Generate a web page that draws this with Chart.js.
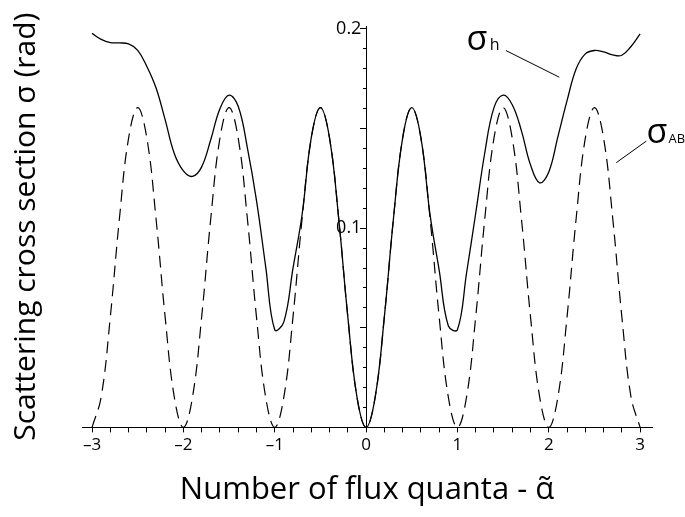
<!DOCTYPE html>
<html>
<head>
<meta charset="utf-8">
<title>Scattering cross section</title>
<script src="https://cdn.jsdelivr.net/npm/chart.js@4.4.1/dist/chart.umd.min.js"></script>
<style>
  html, body { margin: 0; padding: 0; background: #fff; }
  canvas { display: block; }
</style>
</head>
<body>
<canvas id="crossChart" width="685" height="517"></canvas>
<script>
// values, step 0.1 in flux quanta
var alpha = [-3.0, -2.9, -2.8, -2.7, -2.6, -2.5, -2.4, -2.3, -2.2, -2.1,
             -2.0, -1.9, -1.8, -1.7, -1.6, -1.5, -1.4, -1.3, -1.2, -1.1,
             -1.0, -0.9, -0.8, -0.7, -0.6, -0.5, -0.4, -0.3, -0.2, -0.1,
              0.0,  0.1,  0.2,  0.3,  0.4,  0.5,  0.6,  0.7,  0.8,  0.9,
              1.0,  1.1,  1.2,  1.3,  1.4,  1.5,  1.6,  1.7,  1.8,  1.9,
              2.0,  2.1,  2.2,  2.3,  2.4,  2.5,  2.6,  2.7,  2.8,  2.9, 3.0];

// dashed curve (sigma_AB)
var sigmaAB = [0, 0.0153, 0.0555, 0.1050, 0.1452, 0.1605, 0.1452, 0.1050, 0.0555, 0.0153,
               0, 0.0153, 0.0555, 0.1050, 0.1452, 0.1605, 0.1452, 0.1050, 0.0555, 0.0153,
               0, 0.0153, 0.0555, 0.1050, 0.1452, 0.1605, 0.1452, 0.1050, 0.0555, 0.0153,
               0, 0.0153, 0.0555, 0.1050, 0.1452, 0.1605, 0.1452, 0.1050, 0.0555, 0.0153,
               0, 0.0153, 0.0555, 0.1050, 0.1452, 0.1605, 0.1452, 0.1050, 0.0555, 0.0153,
               0, 0.0153, 0.0555, 0.1050, 0.1452, 0.1605, 0.1452, 0.1050, 0.0555, 0.0153, 0];

// solid curve (sigma_h)
var sigmaH = [0.1978, 0.1948, 0.1932, 0.1930, 0.1925, 0.1893, 0.1812, 0.1705, 0.1545, 0.1375,
              0.1288, 0.1260, 0.1308, 0.1445, 0.1600, 0.1668, 0.1612, 0.1405, 0.1140, 0.0810,
              0.0490, 0.0530, 0.0800, 0.1070, 0.1455, 0.1605, 0.1452, 0.1050, 0.0555, 0.0153,
              0, 0.0153, 0.0555, 0.1050, 0.1452, 0.1605, 0.1455, 0.1068, 0.0790, 0.0510,
              0.0490, 0.0775, 0.1075, 0.1380, 0.1605, 0.1668, 0.1620, 0.1490, 0.1318, 0.1228,
              0.1282, 0.1460, 0.1640, 0.1800, 0.1875, 0.1892, 0.1885, 0.1870, 0.1868, 0.1912, 0.1975];

var xTickLabels = [-3, -2, -1, 0, 1, 2, 3];
var yTickLabels = [0.1, 0.2];

function near(list, v) {
  for (var i = 0; i < list.length; i++) {
    if (Math.abs(list[i] - v) < 1e-6) return true;
  }
  return false;
}

var font = '"Open Sans", "Noto Sans", sans-serif';

// sigma_h / sigma_AB labels with their leader lines
var curveLabels = {
  id: 'curveLabels',
  afterDatasetsDraw: function (chart) {
    var ctx = chart.ctx;
    var xs = chart.scales.x, ys = chart.scales.y;
    function px(a) { return xs.getPixelForValue(a); }
    function py(s) { return ys.getPixelForValue(s); }
    ctx.save();
    ctx.strokeStyle = '#000';
    ctx.lineWidth = 1;
    ctx.beginPath();
    ctx.moveTo(px(1.53), py(0.1892));
    ctx.lineTo(px(2.115), py(0.1758));
    ctx.moveTo(px(3.067), py(0.1437));
    ctx.lineTo(px(2.739), py(0.1329));
    ctx.stroke();
    ctx.fillStyle = '#000';
    ctx.textBaseline = 'alphabetic';
    ctx.textAlign = 'left';
    ctx.font = '500 34px ' + font;
    ctx.fillText('σ', px(1.10), py(0.1895));
    ctx.fillText('σ', px(3.07), py(0.143));
    ctx.font = '16px ' + font;
    ctx.fillText('h', px(1.355), py(0.1895));
    ctx.font = '13px ' + font;
    ctx.fillText('AB', px(3.31), py(0.143));
    ctx.restore();
  }
};

var ctx = document.getElementById('crossChart').getContext('2d');

var crossChart = new Chart(ctx, {
  type: 'line',
  data: {
    datasets: [{
      label: 'sigma AB',
      data: alpha.map(function (a, i) { return {x: a, y: sigmaAB[i]}; }),
      borderColor: '#000',
      borderWidth: 1.2,
      borderDash: [12, 7],
      pointRadius: 0,
      tension: 0.4,
      fill: false
    }, {
      label: 'sigma h',
      data: alpha.map(function (a, i) { return {x: a, y: sigmaH[i]}; }),
      borderColor: '#000',
      borderWidth: 1.3,
      pointRadius: 0,
      tension: 0.4,
      fill: false
    }]
  },
  options: {
    responsive: false,
    animation: false,
    events: [],
    layout: { padding: { top: 26, right: 33, bottom: 8, left: 8 } },
    plugins: { legend: { display: false }, tooltip: { enabled: false } },
    scales: {
      x: {
        type: 'linear',
        position: 'bottom',
        min: -3.11,
        max: 3.13,
        border: { display: true, color: '#000', width: 1 },
        grid: { drawOnChartArea: false, drawTicks: true, tickLength: 5, color: '#000' },
        ticks: {
          stepSize: 0.2,
          includeBounds: false,
          autoSkip: false,
          maxRotation: 0,
          padding: 3,
          color: '#000',
          font: { family: font, size: 17 },
          callback: function (v) {
            if (!near(xTickLabels, v)) return '';
            var n = Math.round(v);
            return n < 0 ? '\u2013' + Math.abs(n) : String(n);
          }
        },
        title: {
          display: true,
          text: 'Number of flux quanta - \u03b1\u0303',
          color: '#000',
          font: { family: font, size: 31 },
          padding: { top: 13, bottom: 0 }
        }
      },
      y: {
        type: 'linear',
        position: { x: 0 },
        min: 0,
        max: 0.2015,
        border: { display: true, color: '#000', width: 1 },
        grid: { drawOnChartArea: false, drawTicks: true, tickLength: 3, color: '#000' },
        ticks: { stepSize: 0.01, includeBounds: false, autoSkip: false, display: false }
      },
      y2: {
        type: 'linear',
        position: { x: 0 },
        min: 0,
        max: 0.2015,
        border: { display: false },
        grid: { drawOnChartArea: false, drawTicks: true, tickLength: 6, color: '#000' },
        ticks: {
          stepSize: 0.05,
          includeBounds: false,
          autoSkip: false,
          color: '#000',
          font: { family: font, size: 18 },
          callback: function (v) {
            return near(yTickLabels, v) ? v.toFixed(1) + ' ' : '';
          }
        }
      },
      yTitle: {
        type: 'linear',
        position: 'left',
        min: 0,
        max: 0.2015,
        border: { display: false },
        grid: { display: false, drawTicks: false },
        ticks: { display: false },
        title: {
          display: true,
          text: 'Scattering cross section \u03c3 (rad)',
          color: '#000',
          font: { family: font, size: 30 },
          padding: { top: 0, bottom: 38 }
        }
      }
    }
  },
  plugins: [curveLabels]
});
</script>
</body>
</html>
